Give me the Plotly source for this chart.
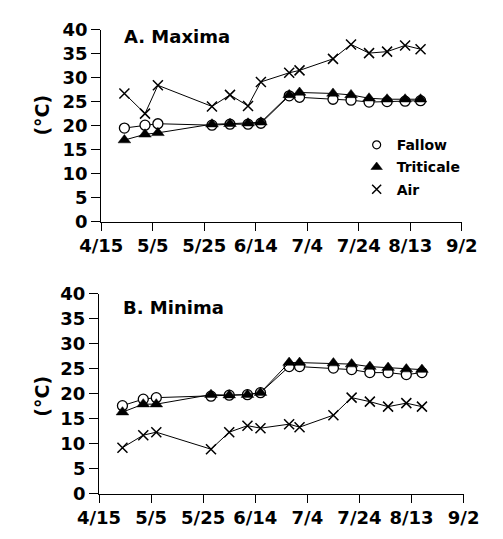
import plotly.graph_objects as go

# sampling dates (1994 season)
dates = ["1994-04-24", "1994-05-02", "1994-05-07", "1994-05-28", "1994-06-04",
         "1994-06-11", "1994-06-16", "1994-06-27", "1994-07-01", "1994-07-14",
         "1994-07-21", "1994-07-28", "1994-08-04", "1994-08-11", "1994-08-17"]

# A. Maxima
fallow_max = [19.5, 20.1, 20.4, 20.1, 20.3, 20.3, 20.5, 26.2, 25.9, 25.5, 25.3, 24.9, 25.0, 25.1, 25.2]
trit_max = [17.0, 18.2, 18.5, 20.3, 20.4, 20.5, 20.7, 26.4, 26.9, 26.7, 26.4, 25.7, 25.5, 25.5, 25.5]
air_max = [26.7, 22.5, 28.4, 24.0, 26.4, 24.1, 29.1, 31.0, 31.5, 33.9, 36.9, 35.1, 35.4, 36.7, 35.9]

# B. Minima
fallow_min = [17.6, 18.9, 19.2, 19.5, 19.7, 19.8, 20.2, 25.4, 25.4, 25.1, 24.8, 24.2, 24.2, 23.8, 24.2]
trit_min = [16.3, 17.9, 17.9, 19.8, 19.7, 19.8, 20.2, 26.2, 26.2, 26.1, 25.9, 25.4, 25.2, 24.9, 24.8]
air_min = [9.2, 11.7, 12.3, 8.9, 12.3, 13.6, 13.1, 13.9, 13.3, 15.7, 19.2, 18.4, 17.4, 18.1, 17.4]

tick_dates = ["1994-04-15", "1994-05-05", "1994-05-25", "1994-06-14",
              "1994-07-04", "1994-07-24", "1994-08-13", "1994-09-02"]
tick_text = ["4/15", "5/5", "5/25", "6/14", "7/4", "7/24", "8/13", "9/2"]
y_ticks = [0, 5, 10, 15, 20, 25, 30, 35, 40]

series_names = ["Fallow", "Triticale", "Air"]

W, H = 503, 539
FONT = "DejaVu Sans"

def mk(name):
    if name == "Fallow":
        return dict(symbol="circle", size=10, color="white", line=dict(color="black", width=1.3))
    if name == "Triticale":
        return dict(symbol="triangle-up", size=11, color="black", line=dict(color="black", width=0.5))
    return dict(symbol="x-thin", size=10, color="black", line=dict(color="black", width=1.5))

fig = go.Figure()
panels = [("x", "y", [fallow_max, trit_max, air_max]),
          ("x2", "y2", [fallow_min, trit_min, air_min])]
for xa, ya, vals in panels:
    for name, v in [("Air", vals[2]), ("Fallow", vals[0]), ("Triticale", vals[1])]:
        fig.add_trace(go.Scatter(x=dates, y=v, xaxis=xa, yaxis=ya, mode="lines+markers",
                                 line=dict(color="black", width=1), marker=mk(name),
                                 showlegend=False, cliponaxis=False))

# legend-only entries
for name in series_names:
    m = dict(mk(name))
    m["size"] = {"Fallow": 8, "Triticale": 10, "Air": 9}[name]
    if name == "Fallow":
        m["line"] = dict(color="black", width=1.2)
    fig.add_trace(go.Scatter(x=[None], y=[None], mode="markers", marker=m,
                             name="<b>" + name + "</b>", legendgroup=name, showlegend=True))

tickfont = dict(family=FONT, size=18, color="black")

def xax(domain, anchor):
    return dict(domain=domain, anchor=anchor, type="date",
                range=["1994-04-15", "1994-09-02"], tickvals=tick_dates,
                ticktext=["<b>" + t + "</b>" for t in tick_text],
                ticks="outside", ticklen=8, tickwidth=1, tickcolor="black",
                showline=True, linecolor="black", linewidth=1, showgrid=False, zeroline=False,
                tickfont=tickfont)

def yax(domain, anchor):
    return dict(domain=domain, anchor=anchor, range=[0, 40],
                tickvals=y_ticks, ticktext=["<b>%d</b>" % v for v in y_ticks],
                ticks="outside", ticklen=9, tickwidth=1, tickcolor="black",
                showline=True, linecolor="black", linewidth=1, showgrid=False, zeroline=False,
                tickfont=tickfont)

fig.update_layout(
    width=W, height=H, margin=dict(l=0, r=0, t=0, b=0),
    paper_bgcolor="white", plot_bgcolor="white",
    xaxis=xax([85.7 / W, 475.7 / W], "y"),
    yaxis=yax([1 - 219.3 / H, 1 - 19.3 / H], "x"),
    xaxis2=xax([83.3 / W, 477.7 / W], "y2"),
    yaxis2=yax([1 - 502.3 / H, 1 - 294 / H], "x2"),
    legend=dict(x=(382 - 20) / W, y=1 - 123 / H, xanchor="left", yanchor="top",
                bgcolor="rgba(0,0,0,0)", itemwidth=30, tracegroupgap=1,
                font=dict(family=FONT, size=14, color="black")),
    annotations=[
        dict(text="<b>A. Maxima</b>", x=108 / W, y=1 - 27 / H, xref="paper", yref="paper",
             xanchor="left", yanchor="middle", showarrow=False,
             font=dict(family=FONT, size=18, color="black")),
        dict(text="<b>B. Minima</b>", x=107 / W, y=1 - 309 / H, xref="paper", yref="paper",
             xanchor="left", yanchor="middle", showarrow=False,
             font=dict(family=FONT, size=18, color="black")),
        dict(text="<b>(°C)</b>", x=22 / W, y=1 - 108.5 / H, xref="paper", yref="paper",
             xanchor="center", yanchor="middle", showarrow=False, textangle=-90,
             font=dict(family=FONT, size=19, color="black")),
        dict(text="<b>(°C)</b>", x=22 / W, y=1 - 401 / H, xref="paper", yref="paper",
             xanchor="center", yanchor="middle", showarrow=False, textangle=-90,
             font=dict(family=FONT, size=19, color="black")),
    ],
)

fig.write_html("out.html")
